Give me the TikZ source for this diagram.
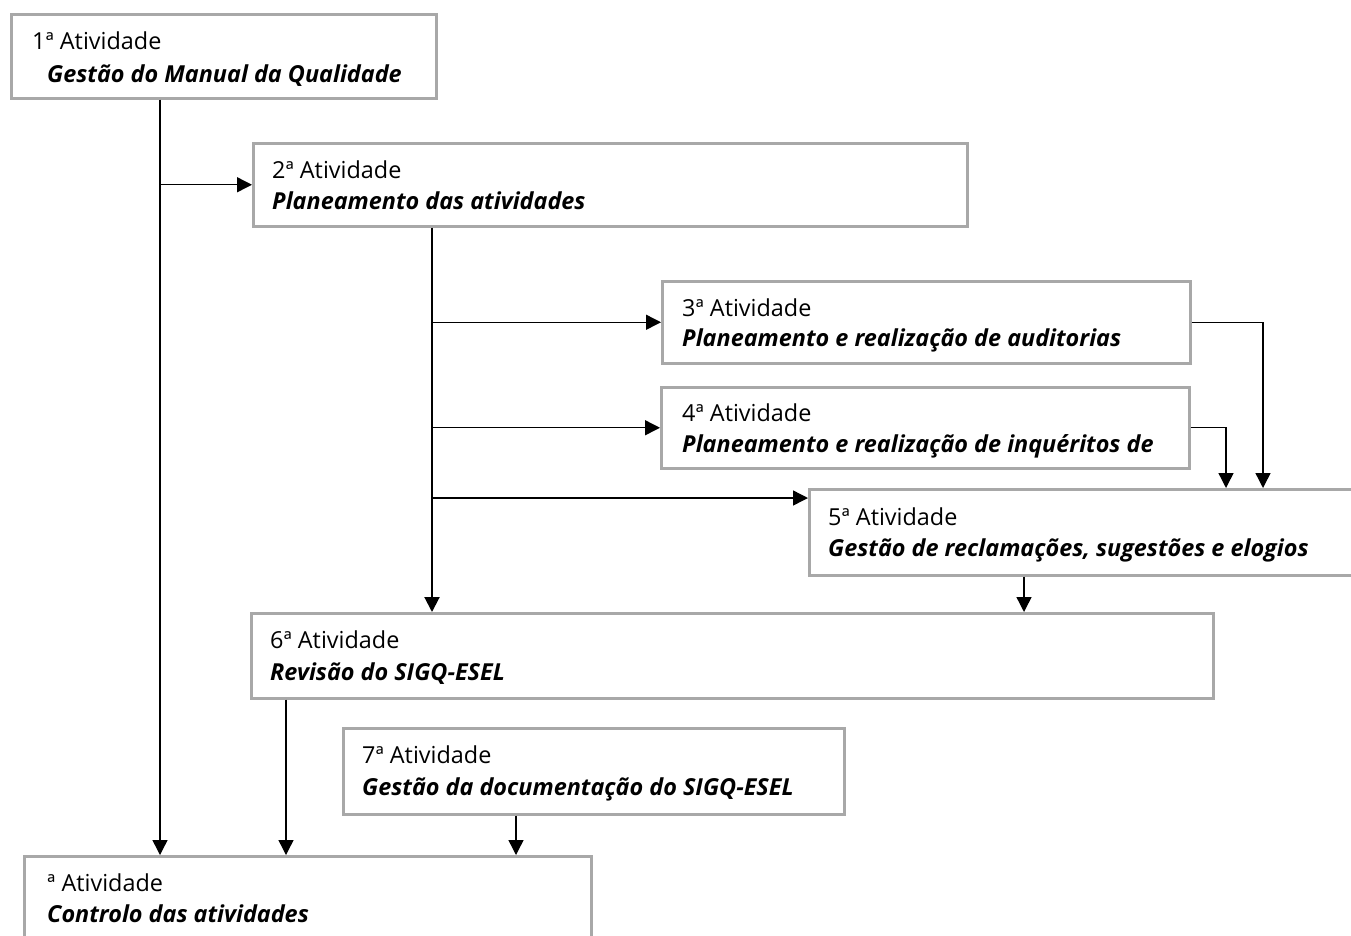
\documentclass[tikz,border=0pt]{standalone}
\usepackage{fontspec}
\setmainfont{Open Sans}
\usetikzlibrary{arrows.meta}
\definecolor{boxgray}{RGB}{168,168,168}
\begin{document}
\begin{tikzpicture}[x=1pt,y=1pt,
  actbox/.style={draw=boxgray, line width=2.5pt, rectangle, anchor=north west, inner sep=0pt},
  acthead/.style={anchor=base west, inner sep=0pt, font=\fontsize{23.4}{28}\selectfont},
  actname/.style={anchor=base west, inner sep=0pt, font=\fontsize{23.4}{28}\selectfont\bfseries\itshape},
  conn/.style={draw=black, line width=1.4pt, -{Triangle[length=15pt,width=15pt]}}]
\useasboundingbox (0,0) rectangle (1351,-935);
\clip (0,0) rectangle (1351,-935);
\fill[white] (0,0) rectangle (1351,-935);
\node[actbox, minimum width=425, minimum height=84] (a1) at (10,-13) {};
\node[acthead] (a1h) at ([shift={(22,-36)}]a1.north west) {1ª Atividade};
\node[actname] (a1n) at ([shift={(37,-69)}]a1.north west) {Gestão do Manual da Qualidade};
\node[actbox, minimum width=714, minimum height=83] (a2) at (252,-142) {};
\node[acthead] (a2h) at ([shift={(20,-36)}]a2.north west) {2ª Atividade};
\node[actname] (a2n) at ([shift={(20,-67)}]a2.north west) {Planeamento das atividades};
\node[actbox, minimum width=528, minimum height=82] (a3) at (661,-280) {};
\node[acthead] (a3h) at ([shift={(21,-36)}]a3.north west) {3ª Atividade};
\node[actname] (a3n) at ([shift={(21,-66)}]a3.north west) {Planeamento e realização de auditorias};
\node[actbox, minimum width=528, minimum height=81] (a4) at (660,-386) {};
\node[acthead] (a4h) at ([shift={(22,-35)}]a4.north west) {4ª Atividade};
\node[actname] (a4n) at ([shift={(22,-66)}]a4.north west) {Planeamento e realização de inquéritos de};
\node[actbox, minimum width=560, minimum height=86] (a5) at (808,-488) {};
\node[acthead] (a5h) at ([shift={(20,-37)}]a5.north west) {5ª Atividade};
\node[actname] (a5n) at ([shift={(20,-68)}]a5.north west) {Gestão de reclamações, sugestões e elogios};
\node[actbox, minimum width=962, minimum height=85] (a6) at (250,-612) {};
\node[acthead] (a6h) at ([shift={(20,-36)}]a6.north west) {6ª Atividade};
\node[actname] (a6n) at ([shift={(20,-68)}]a6.north west) {Revisão do SIGQ-ESEL};
\node[actbox, minimum width=501, minimum height=86] (a7) at (342,-727) {};
\node[acthead] (a7h) at ([shift={(20,-36)}]a7.north west) {7ª Atividade};
\node[actname] (a7n) at ([shift={(20,-68)}]a7.north west) {Gestão da documentação do SIGQ-ESEL};
\node[actbox, minimum width=567, minimum height=100] (a8) at (23,-855) {};
\node[acthead] (a8h) at ([shift={(24,-36)}]a8.north west) {ª Atividade};
\node[actname] (a8n) at ([shift={(24,-67)}]a8.north west) {Controlo das atividades};
\coordinate (t1) at ([xshift=150]a1.south west);
\coordinate (t2) at ([xshift=180]a2.south west);
\coordinate (t5) at ([xshift=216]a5.south west);
\coordinate (t6) at ([xshift=36]a6.south west);
\coordinate (t7) at ([xshift=174]a7.south west);
\draw[conn] (t1) -- (t1 |- a8.north);
\draw[conn] (t1 |- a2.west) -- (a2.west);
\draw[conn, line width=2pt] (t2) -- (t2 |- a6.north);
\draw[conn] (t2 |- a3.west) -- (a3.west);
\draw[conn] (t2 |- a4.west) -- (a4.west);
\draw[conn] (t2 |- 0,-498) -- (a5.west |- 0,-498);
\draw[conn] (a3.east) -| ([xshift=455]a5.north west);
\draw[conn] (a4.east) -| ([xshift=418]a5.north west);
\draw[conn] (t5) -- (t5 |- a6.north);
\draw[conn] (t6) -- (t6 |- a8.north);
\draw[conn] (t7) -- (t7 |- a8.north);
\end{tikzpicture}
\end{document}
